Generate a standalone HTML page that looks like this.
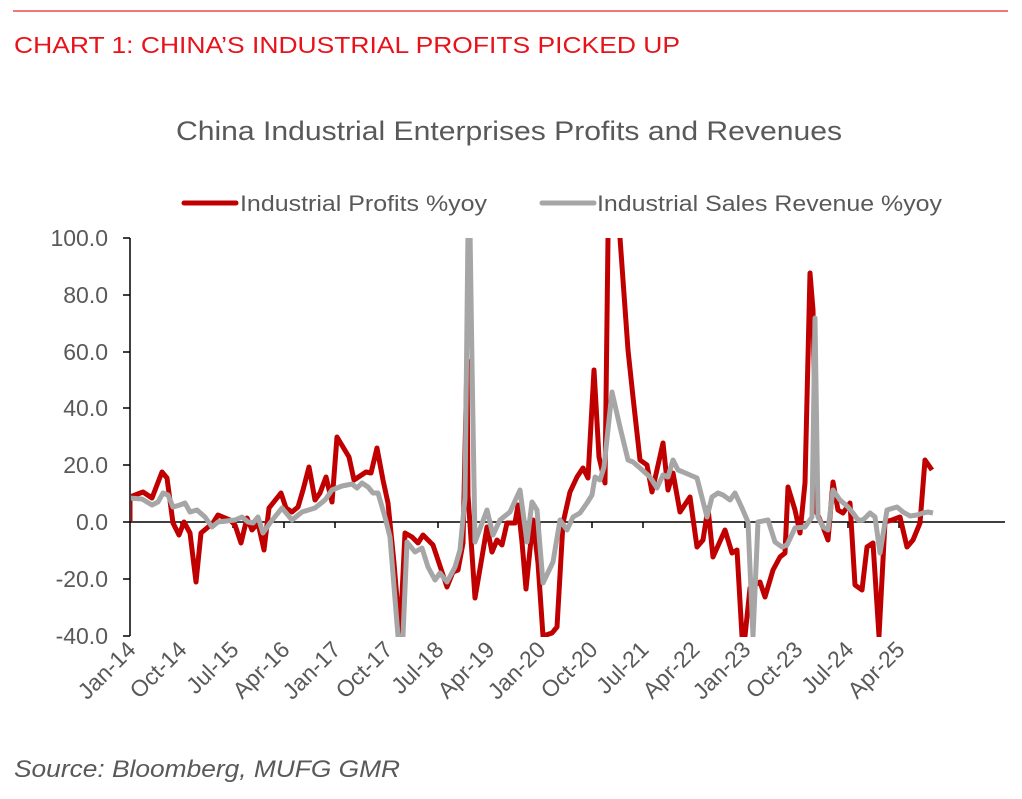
<!DOCTYPE html>
<html><head><meta charset="utf-8"><style>
html,body{margin:0;padding:0;background:#fff;}
svg{display:block;font-family:"Liberation Sans",Arial,sans-serif;}
</style></head><body>
<svg width="1022" height="799" viewBox="0 0 1022 799" xmlns="http://www.w3.org/2000/svg">
<defs><clipPath id="pa"><rect x="131" y="238" width="880" height="399"/></clipPath></defs>
<line x1="13" y1="11" x2="1008" y2="11" stroke="#e8262a" stroke-width="1.3"/>
<text x="14" y="53" font-size="23.5" fill="#e8121a" textLength="666" lengthAdjust="spacingAndGlyphs">CHART 1: CHINA’S INDUSTRIAL PROFITS PICKED UP</text>
<text x="176" y="140" font-size="27" fill="#595959" textLength="666" lengthAdjust="spacingAndGlyphs">China Industrial Enterprises Profits and Revenues</text>
<line x1="184" y1="203" x2="236" y2="203" stroke="#c00000" stroke-width="5" stroke-linecap="round"/>
<text x="240" y="211" font-size="22" fill="#595959" textLength="247" lengthAdjust="spacingAndGlyphs">Industrial Profits %yoy</text>
<line x1="542" y1="203" x2="594" y2="203" stroke="#a6a6a6" stroke-width="5" stroke-linecap="round"/>
<text x="597" y="211" font-size="22" fill="#595959" textLength="345" lengthAdjust="spacingAndGlyphs">Industrial Sales Revenue %yoy</text>
<g font-size="23" fill="#595959" text-anchor="end">
<text x="108" y="246">100.0</text><text x="108" y="303">80.0</text><text x="108" y="360">60.0</text>
<text x="108" y="416">40.0</text><text x="108" y="473">20.0</text><text x="108" y="530">0.0</text>
<text x="108" y="587">-20.0</text><text x="108" y="644">-40.0</text>
</g>
<g stroke="#000" stroke-width="1.5">
<line x1="130" y1="238" x2="130" y2="636"/>
<line x1="123" y1="238" x2="130" y2="238"/><line x1="123" y1="295" x2="130" y2="295"/>
<line x1="123" y1="352" x2="130" y2="352"/><line x1="123" y1="408" x2="130" y2="408"/>
<line x1="123" y1="465" x2="130" y2="465"/><line x1="123" y1="522" x2="130" y2="522"/>
<line x1="123" y1="579" x2="130" y2="579"/><line x1="123" y1="636" x2="130" y2="636"/>
<line x1="130" y1="522" x2="1005" y2="522"/>
<line x1="181" y1="522" x2="181" y2="528"/><line x1="233" y1="522" x2="233" y2="528"/>
<line x1="284" y1="522" x2="284" y2="528"/><line x1="335" y1="522" x2="335" y2="528"/>
<line x1="387" y1="522" x2="387" y2="528"/><line x1="438" y1="522" x2="438" y2="528"/>
<line x1="489" y1="522" x2="489" y2="528"/><line x1="540" y1="522" x2="540" y2="528"/>
<line x1="592" y1="522" x2="592" y2="528"/><line x1="643" y1="522" x2="643" y2="528"/>
<line x1="694" y1="522" x2="694" y2="528"/><line x1="745" y1="522" x2="745" y2="528"/>
<line x1="797" y1="522" x2="797" y2="528"/><line x1="848" y1="522" x2="848" y2="528"/>
<line x1="899" y1="522" x2="899" y2="528"/>
</g>
<g clip-path="url(#pa)" fill="none" stroke-linejoin="round" stroke-width="5">
<polyline stroke="#c00000" points="130,522 130,497 143,492 152,498 162,472 167,478 173,523 179,535 184,522 190,533 196,582 201,533 213,523 218,515 230,520 235,525 241,543 247,518 252,530 258,523 264,550 269,508 281,493 286,508 292,512 298,507 303,490 309,467 315,500 320,493 326,477 332,502 337,437 349,457 354,480 366,472 371,473 377,448 383,480 388,503 394,563 400,636 405,533 412,537 418,543 423,535 433,545 447,587 453,572 458,570 463,543 467,360 468,495 475,598 482,557 487,527 492,552 497,540 502,545 507,523 515,523 518,505 522,542 526,589 533,520 538,563 543,636 552,633 557,627 563,523 570,492 577,477 583,468 588,478 594,370 599,457 605,483 608,238 612,150 620,238 628,350 633,397 640,460 647,465 652,492 663,443 668,490 673,473 680,512 690,497 697,547 703,540 708,508 713,557 725,530 732,553 737,550 742,636 745,636 750,588 760,582 765,597 773,570 780,557 785,553 788,487 795,510 800,533 805,483 810,273 813,310 817,513 823,527 828,540 833,482 838,510 843,513 850,503 855,585 862,590 867,547 873,543 879,636 885,522 892,520 900,517 907,547 913,540 920,523 925,460 932,470"/>
<polyline stroke="#a6a6a6" points="130,498 142,499 152,505 158,502 163,493 168,495 173,507 180,505 185,503 190,512 197,510 205,517 212,527 218,522 235,520 242,517 248,522 253,523 258,517 263,533 270,523 282,508 292,520 302,512 315,508 325,500 332,490 342,486 352,484 357,488 362,483 368,487 373,493 378,493 385,517 390,537 398,636 403,636 407,542 415,552 422,548 428,567 435,580 440,573 447,582 455,567 460,550 465,498 468,230 470,230 472,363 475,542 487,510 493,535 500,520 510,512 520,490 527,542 532,502 537,510 543,583 553,562 560,520 567,530 573,517 580,513 587,503 592,495 595,477 600,480 604,467 612,392 620,427 628,460 633,462 640,468 650,477 657,488 663,475 668,477 673,460 678,470 683,472 697,478 707,517 712,497 718,493 723,495 730,500 735,493 742,508 748,522 753,636 758,522 768,520 775,542 782,547 787,545 795,528 805,527 812,517 815,318 818,517 823,527 828,530 833,490 840,500 848,507 853,513 858,520 863,520 870,513 875,517 880,553 887,510 897,507 903,512 910,516 917,515 923,513 928,512 933,513"/>
</g>
<g font-size="23" fill="#595959" text-anchor="end">
<text transform="translate(137,651) rotate(-45)">Jan-14</text>
<text transform="translate(188,651) rotate(-45)">Oct-14</text>
<text transform="translate(240,651) rotate(-45)">Jul-15</text>
<text transform="translate(291,651) rotate(-45)">Apr-16</text>
<text transform="translate(342,651) rotate(-45)">Jan-17</text>
<text transform="translate(394,651) rotate(-45)">Oct-17</text>
<text transform="translate(445,651) rotate(-45)">Jul-18</text>
<text transform="translate(496,651) rotate(-45)">Apr-19</text>
<text transform="translate(547,651) rotate(-45)">Jan-20</text>
<text transform="translate(599,651) rotate(-45)">Oct-20</text>
<text transform="translate(650,651) rotate(-45)">Jul-21</text>
<text transform="translate(701,651) rotate(-45)">Apr-22</text>
<text transform="translate(752,651) rotate(-45)">Jan-23</text>
<text transform="translate(804,651) rotate(-45)">Oct-23</text>
<text transform="translate(855,651) rotate(-45)">Jul-24</text>
<text transform="translate(906,651) rotate(-45)">Apr-25</text>
</g>
<text x="14" y="777" font-size="24" font-style="italic" fill="#595959" textLength="386" lengthAdjust="spacingAndGlyphs">Source: Bloomberg, MUFG GMR</text>
</svg>
</body></html>
